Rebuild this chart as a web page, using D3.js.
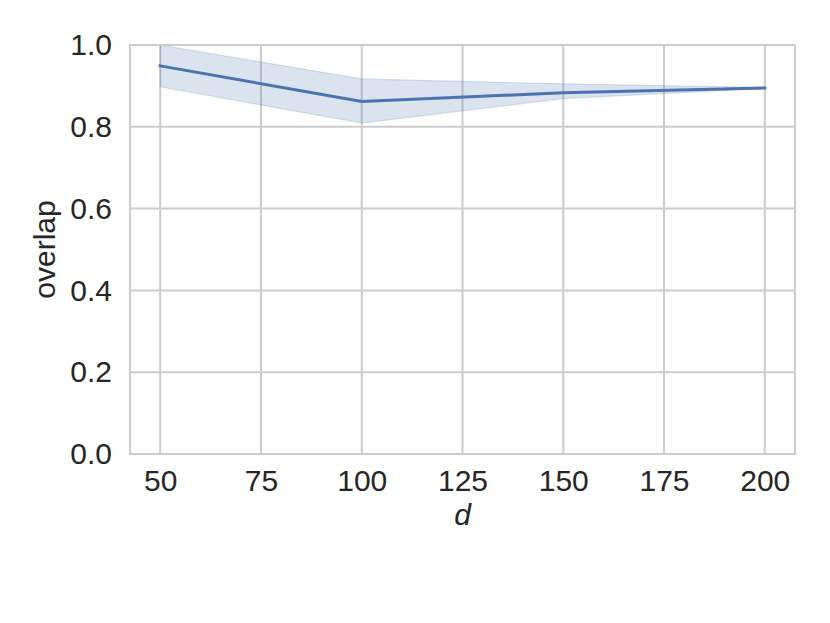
<!DOCTYPE html>
<html>
<head>
<meta charset="utf-8">
<script src="https://cdn.jsdelivr.net/npm/d3@7"></script>
<style>
  html, body { margin: 0; padding: 0; background: #fff; }
  svg { display: block; }
  text { font-family: "Liberation Sans", Arial, sans-serif; fill: #262626; }
</style>
</head>
<body>
<svg id="chart" width="830" height="623"></svg>
<script>
// Data
const dValues = [50, 100, 150, 200];
const overlapMean = [0.949, 0.862, 0.883, 0.895];
const overlapLow = [0.898, 0.809, 0.869, 0.894];
const overlapHigh = [1.0, 0.917, 0.905, 0.896];
const xTicks = [50, 75, 100, 125, 150, 175, 200];
const yTicks = [0.0, 0.2, 0.4, 0.6, 0.8, 1.0];

const W = 830, H = 623;
const margin = { left: 130, right: 35, top: 45, bottom: 169 };
const svg = d3.select("#chart");

const x = d3.scaleLinear().domain([42.5, 207.5]).range([margin.left, W - margin.right]);
const y = d3.scaleLinear().domain([0, 1]).range([H - margin.bottom, margin.top]);

const gridColor = "#cccccc";
const fontSize = 30;

// gridlines
svg.append("g").selectAll("line").data(xTicks).join("line")
  .attr("x1", d => x(d)).attr("x2", d => x(d))
  .attr("y1", y(0)).attr("y2", y(1))
  .attr("stroke", gridColor).attr("stroke-width", 2);
svg.append("g").selectAll("line").data(yTicks).join("line")
  .attr("x1", x.range()[0]).attr("x2", x.range()[1])
  .attr("y1", d => y(d)).attr("y2", d => y(d))
  .attr("stroke", gridColor).attr("stroke-width", 2);

// band
const pts = dValues.map((d, i) => ({ d, m: overlapMean[i], lo: overlapLow[i], hi: overlapHigh[i] }));
const area = d3.area().x(p => x(p.d)).y0(p => y(p.lo)).y1(p => y(p.hi));
svg.append("path").datum(pts).attr("d", area)
  .attr("fill", "#4c72b0").attr("fill-opacity", 0.2)
  .attr("stroke", "#4c72b0").attr("stroke-opacity", 0.2).attr("stroke-width", 1.2);

// line
const line = d3.line().x(p => x(p.d)).y(p => y(p.m));
svg.append("path").datum(pts).attr("d", line)
  .attr("fill", "none").attr("stroke", "#4c72b0").attr("stroke-width", 3)
  .attr("stroke-linecap", "square");

// frame
svg.append("rect")
  .attr("x", x.range()[0]).attr("y", y(1))
  .attr("width", x.range()[1] - x.range()[0]).attr("height", y(0) - y(1))
  .attr("fill", "none").attr("stroke", gridColor).attr("stroke-width", 2);

// axes (text only, via d3 axis)
const xAxis = d3.axisBottom(x).tickValues(xTicks).tickSize(0).tickPadding(16).tickFormat(d3.format("d"));
const gx = svg.append("g").attr("transform", `translate(0,${y(0)})`).call(xAxis);
gx.select(".domain").remove();
gx.selectAll("text").style("font-size", fontSize + "px").attr("fill", "#262626");

const yAxis = d3.axisLeft(y).tickValues(yTicks).tickSize(0).tickPadding(18).tickFormat(d3.format(".1f"));
const gy = svg.append("g").attr("transform", `translate(${x.range()[0]},0)`).call(yAxis);
gy.select(".domain").remove();
gy.selectAll("text").style("font-size", fontSize + "px").attr("fill", "#262626");

// axis labels
svg.append("text")
  .attr("x", (x.range()[0] + x.range()[1]) / 2).attr("y", 525)
  .attr("text-anchor", "middle").style("font-size", fontSize + "px").style("font-style", "italic")
  .text("d");
svg.append("text")
  .attr("transform", `translate(55,${(y(0) + y(1)) / 2}) rotate(-90)`)
  .attr("text-anchor", "middle").style("font-size", fontSize + "px")
  .text("overlap");
</script>
</body>
</html>
